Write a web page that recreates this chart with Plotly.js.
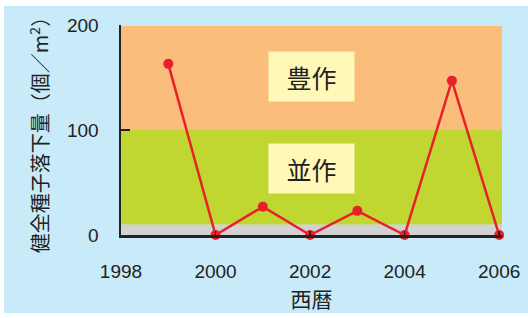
<!DOCTYPE html>
<html><head><meta charset="utf-8">
<script src="https://cdn.plot.ly/plotly-3.0.1.min.js"></script>
<style>html,body{margin:0;padding:0;background:#fff;}#c{position:absolute;left:4px;top:6px;width:524px;height:307px;}</style>
</head><body><div id="c"></div>
<script>
const years = [1999, 2000, 2001, 2002, 2003, 2004, 2005, 2006];
const seeds = [163, 0, 27, 0, 23, 0, 147, 0];
const xTicks = [1998, 2000, 2002, 2004, 2006];
const yTicks = [0, 100, 200];
const bands = [{from: 0, to: 10, color: '#d2d2d4'}, {from: 10, to: 100, color: '#bfd730'}, {from: 100, to: 200, color: '#fbbd7c'}];
const bandLabels = [{text: '豊作', y: 151}, {text: '並作', y: 63}];
const font = '"Liberation Sans", Arial, sans-serif';
const cjk = '"Noto Sans CJK JP", sans-serif';
const shapes = bands.map(b => ({type: 'rect', xref: 'paper', yref: 'y', x0: 0, x1: 1, y0: b.from, y1: b.to, fillcolor: b.color, line: {width: 0}, layer: 'below'}));
shapes.push({type: 'line', xref: 'paper', yref: 'y', x0: 0, x1: 1, y0: 200, y1: 200, line: {color: '#ffffff', width: 1}, layer: 'below'});
const annotations = bandLabels.map(l => ({x: 2002.03, y: l.y, xref: 'x', yref: 'y', text: l.text, showarrow: false, bgcolor: '#fff8b8', width: 83, height: 47, font: {family: cjk, size: 25, color: '#222'}}));
Plotly.newPlot('c', [{
  x: years, y: seeds, type: 'scatter', mode: 'lines+markers',
  line: {color: '#e8202a', width: 2.5}, marker: {color: '#e8202a', size: 10}, cliponaxis: false
}], {
  width: 524, height: 307,
  margin: {l: 117, r: 25.5, t: 19, b: 78},
  paper_bgcolor: '#c8eaf9', plot_bgcolor: 'rgba(0,0,0,0)',
  showlegend: false, shapes: shapes, annotations: annotations,
  xaxis: {range: [1998, 2006.06], tickvals: xTicks, ticktext: xTicks.map(String), showgrid: false, zeroline: false,
    showline: true, linecolor: '#222', linewidth: 2.5, ticks: 'inside', ticklen: 4, tickcolor: '#222', tickwidth: 1.5,
    ticklabelstandoff: 18, tickfont: {family: font, size: 19, color: '#222'},
    title: {text: '西暦', font: {family: cjk, size: 21, color: '#222'}, standoff: 13}},
  yaxis: {range: [0, 200], tickvals: yTicks, ticktext: yTicks.map(String), showgrid: false, zeroline: false,
    showline: true, linecolor: '#222', linewidth: 2.5, ticks: 'inside', ticklen: 9, tickcolor: '#222', tickwidth: 1.5,
    ticklabelstandoff: 16, tickfont: {family: font, size: 19, color: '#222'},
    title: {text: '健全種子落下量（個／m<sup>2</sup>）', font: {family: cjk, size: 20, color: '#222'}, standoff: 13}}
}, {displayModeBar: false, staticPlot: true});
</script></body></html>
